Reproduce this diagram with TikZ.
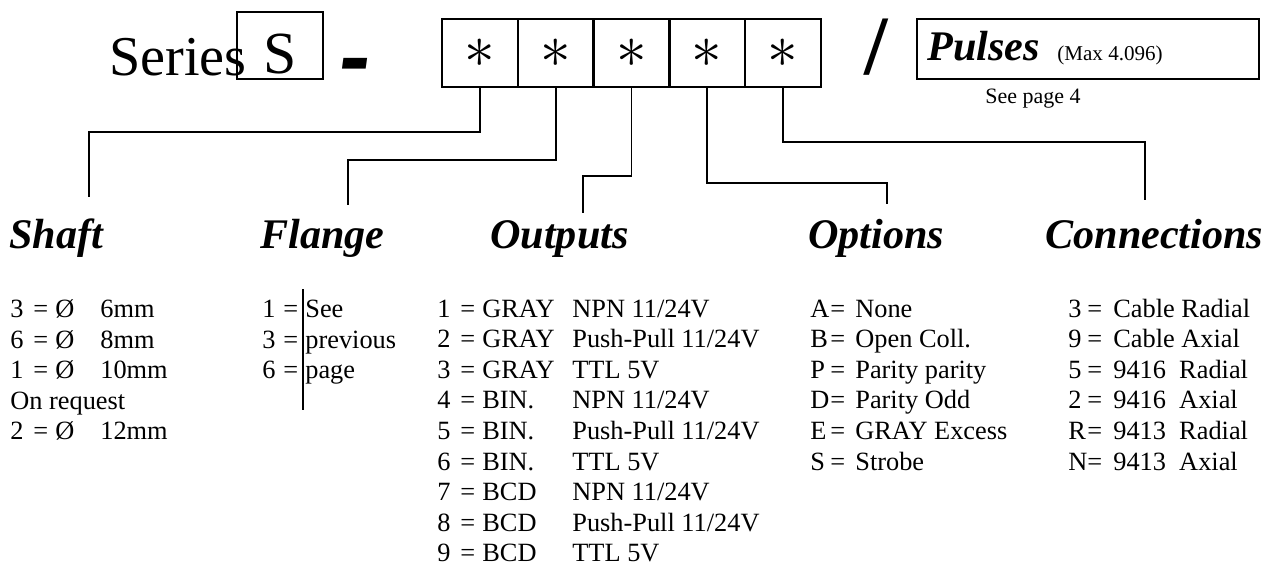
\documentclass[tikz,border=0pt]{standalone}
\usepackage{fontspec}
\setmainfont{Liberation Serif}
\usepackage{tikz}
\usetikzlibrary{positioning}

\begin{document}
\begin{tikzpicture} [x = 0.02cm, y = -0.02cm, node distance = 1.516cm, on grid,
        cell/.style = {draw, line width = 1.4pt, minimum width = 1.516cm,
            minimum height = 1.36cm, inner sep = 0pt, font = \fontsize{26}{30}\selectfont},
        box/.style = {draw, line width = 1.4pt, inner sep = 0pt},
        head/.style = {anchor = base west, inner sep = 0pt,
            font = \fontsize{24}{28}\selectfont\bfseries\itshape},
        txt/.style = {anchor = base west, inner sep = 0pt, font = \fontsize{15}{18}\selectfont},
        link/.style = {line width = 1pt}]

    \useasboundingbox (0,0) rectangle (1276,568);

    % code line
    \node (series) [anchor = base west, inner sep = 0pt, font = \fontsize{32}{36}\selectfont]
        at (109,75) {Series};
    \node (sbox) [box, anchor = base, minimum width = 1.72cm, minimum height = 1.34cm,
        text height = 1.1cm, text depth = 0pt, font = \fontsize{34}{38}\selectfont]
        at (280,73) {S};
    \node (dash) [anchor = base, inner sep = 0pt, font = \fontsize{40}{44}\selectfont\bfseries\itshape]
        at (356,93) {\scalebox{1.3}[1.8]{-}};

    \node (c1) [cell] at (479.9,53) {\smash{\raisebox{-0.3cm}{\scalebox{1.4}{$\ast$}}}};
    \node (c2) [cell, right = of c1] {\smash{\raisebox{-0.3cm}{\scalebox{1.4}{$\ast$}}}};
    \node (c3) [cell, right = of c2] {\smash{\raisebox{-0.3cm}{\scalebox{1.4}{$\ast$}}}};
    \node (c4) [cell, right = of c3] {\smash{\raisebox{-0.3cm}{\scalebox{1.4}{$\ast$}}}};
    \node (c5) [cell, right = of c4] {\smash{\raisebox{-0.3cm}{\scalebox{1.4}{$\ast$}}}};

    \node (slash) [anchor = base, inner sep = 0pt, font = \fontsize{48}{52}\selectfont\bfseries]
        at (876,74) {/};
    \node (pbox) [box, minimum width = 6.84cm, minimum height = 1.2cm] at (1088,49) {};
    \node (pulses) [head] at (927,60) {Pulses};
    \node (max) [txt, font = \fontsize{12}{14}\selectfont] at (1057,60) {(Max 4.096)};
    \node (seepage) [txt, font = \fontsize{12.5}{14}\selectfont] at (985,103) {See page 4};

    % headings
    \node (shaft) [head] at (9,248) {Shaft};
    \node (flange) [head] at (260,248) {Flange};
    \node (outputs) [head] at (490,248) {Outputs};
    \node (options) [head] at (808,248) {Options};
    \node (connections) [head] at (1045,248) {Connections};

    \coordinate (shaftend) at (89,197);
    \coordinate (flangeend) at (348,205);
    \coordinate (outend) at (583,213);
    \coordinate (optend) at (887,204);
    \coordinate (conend) at (1145,200);

    \draw [link] (c1.south) -- ++(0,44) -| (shaftend);
    \draw [link] (c2.south) -- ++(0,72) -| (flangeend);
    \draw [link] (c3.south) -- ++(0,88) -| (outend);
    \draw [link] (c4.south) -- ++(0,95) -| (optend);
    \draw [link] (c5.south) -- ++(0,54) -| (conend);

    % shaft
    \foreach \n/\d/\y [count=\i] in {3/6mm/317, 6/8mm/348, 1/10mm/378, 2/12mm/439} {
        \node (shn\i) [txt] at (10,\y) {\n};
        \node (she\i) [txt] at (33,\y) {=};
        \node (sho\i) [txt] at (55,\y) {Ø};
        \node (shd\i) [txt] at (100,\y) {\d};
    }
    \node (onreq) [txt] at (10,409) {On request};

    % flange
    \foreach \n/\t/\y [count=\i] in {1/See/317, 3/previous/348, 6/page/378} {
        \node (fln\i) [txt] at (262,\y) {\n};
        \node (fle\i) [txt] at (283,\y) {=};
        \node (flt\i) [txt] at (305,\y) {\t};
    }
    \draw [line width = 1.2pt] (303,289) -- (303,410);

    % outputs
    \foreach \n/\t/\d [count=\i] in {1/GRAY/{NPN 11/24V}, 2/GRAY/{Push-Pull 11/24V},
            3/GRAY/{TTL 5V}, 4/BIN./{NPN 11/24V}, 5/BIN./{Push-Pull 11/24V}, 6/BIN./{TTL 5V},
            7/BCD/{NPN 11/24V}, 8/BCD/{Push-Pull 11/24V}, 9/BCD/{TTL 5V}} {
        \node (otn\i) [txt] at (437,{317+30.6*(\i-1)}) {\n};
        \node (ote\i) [txt] at (460,{317+30.6*(\i-1)}) {=};
        \node (ott\i) [txt] at (482,{317+30.6*(\i-1)}) {\t};
        \node (otd\i) [txt] at (572,{317+30.6*(\i-1)}) {\d};
    }

    % options
    \foreach \l/\t [count=\i] in {A/None, B/Open Coll., P/Parity parity, D/Parity Odd,
            E/GRAY Excess, S/Strobe} {
        \node (opl\i) [txt] at (810,{317+30.6*(\i-1)}) {\l};
        \node (ope\i) [txt] at (830,{317+30.6*(\i-1)}) {=};
        \node (opt\i) [txt] at (855,{317+30.6*(\i-1)}) {\t};
    }

    % connections
    \foreach \n/\t [count=\i] in {3/Cable Radial, 9/Cable Axial, 5/9416~~Radial,
            2/9416~~Axial, R/9413~~Radial, N/9413~~Axial} {
        \node (con\i) [txt] at (1068,{317+30.6*(\i-1)}) {\n};
        \node (coe\i) [txt] at (1087,{317+30.6*(\i-1)}) {=};
        \node (cot\i) [txt] at (1113,{317+30.6*(\i-1)}) {\t};
    }
\end{tikzpicture}
\end{document}
